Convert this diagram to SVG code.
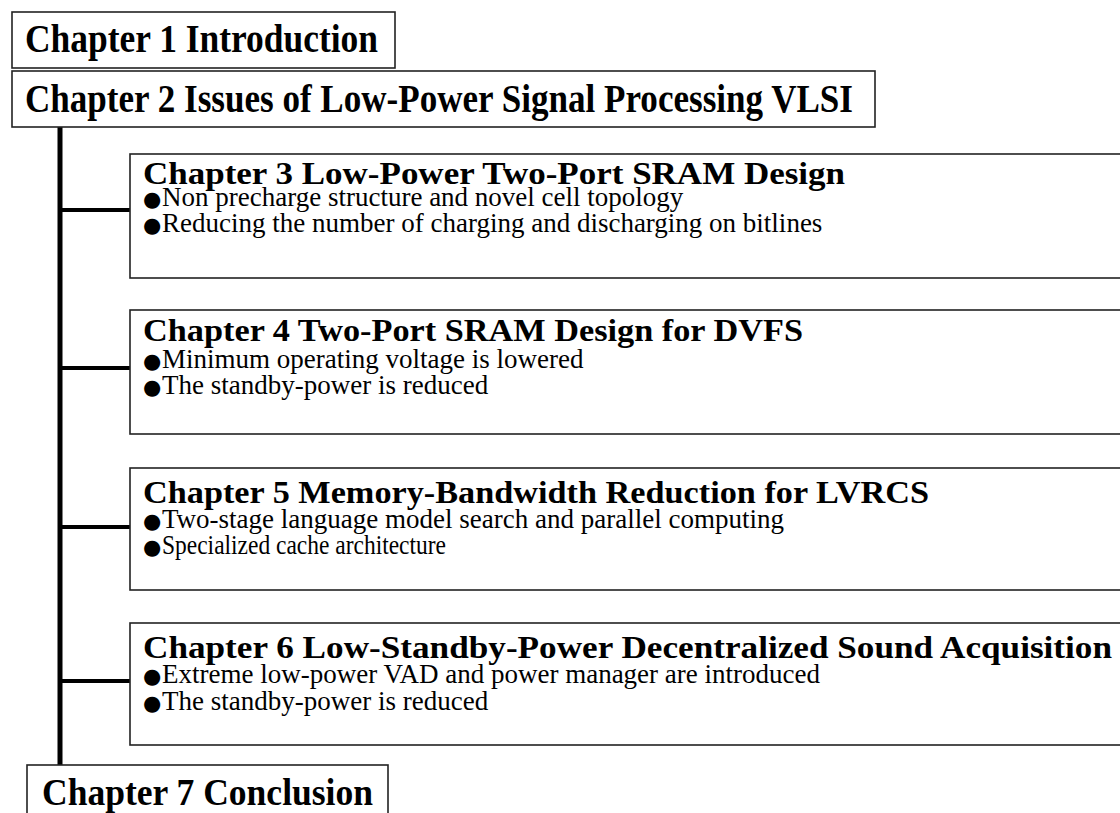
<svg xmlns="http://www.w3.org/2000/svg" width="1120" height="813" viewBox="0 0 1120 813">
<style>
.box{fill:#fff;stroke:#222;stroke-width:1.6}
.big{font-family:"Liberation Serif","Times New Roman",serif;font-weight:bold;font-size:40px;fill:#000}
.ttl{font-family:"Liberation Serif","Times New Roman",serif;font-weight:bold;font-size:31px;fill:#000}
.bul{font-family:"Liberation Serif","Times New Roman",serif;font-size:27px;fill:#000}
.dot{font-family:"DejaVu Sans",sans-serif;font-size:21px;fill:#000}
.line{stroke:#000;fill:none}
</style>
<rect width="1120" height="813" fill="#fff"/>
<g id="connectors">
<line class="line" x1="60" y1="127" x2="60" y2="765" stroke-width="5"/>
<line class="line" x1="60" y1="210" x2="130" y2="210" stroke-width="4"/>
<line class="line" x1="60" y1="368" x2="130" y2="368" stroke-width="4"/>
<line class="line" x1="60" y1="527" x2="130" y2="527" stroke-width="4"/>
<line class="line" x1="60" y1="681" x2="130" y2="681" stroke-width="4"/>
</g>
<g id="ch1">
<rect class="box" x="12" y="12" width="383" height="56"/>
<text class="big" x="25" y="52" textLength="353" lengthAdjust="spacingAndGlyphs">Chapter 1  Introduction</text>
</g>
<g id="ch2">
<rect class="box" x="12" y="71" width="863" height="56"/>
<text class="big" x="25" y="112" textLength="828" lengthAdjust="spacingAndGlyphs">Chapter 2  Issues of Low-Power Signal Processing VLSI</text>
</g>
<g id="ch3">
<rect class="box" x="130" y="154" width="1010" height="124"/>
<text class="ttl" x="143" y="184" textLength="702" lengthAdjust="spacingAndGlyphs">Chapter 3  Low-Power Two-Port SRAM Design</text>
<text class="dot" x="143" y="206">●</text>
<text class="bul" x="162" y="206">Non precharge structure and novel cell topology</text>
<text class="dot" x="143" y="232">●</text>
<text class="bul" x="162" y="232">Reducing the number of charging and discharging on bitlines</text>
</g>
<g id="ch4">
<rect class="box" x="130" y="310" width="1010" height="124"/>
<text class="ttl" x="143" y="341" textLength="660" lengthAdjust="spacingAndGlyphs">Chapter 4   Two-Port SRAM Design for DVFS</text>
<text class="dot" x="143" y="368">●</text>
<text class="bul" x="162" y="368">Minimum operating voltage is lowered</text>
<text class="dot" x="143" y="394">●</text>
<text class="bul" x="162" y="394">The standby-power is reduced</text>
</g>
<g id="ch5">
<rect class="box" x="130" y="468" width="1010" height="122"/>
<text class="ttl" x="143" y="503" textLength="786" lengthAdjust="spacingAndGlyphs">Chapter 5  Memory-Bandwidth Reduction for LVRCS</text>
<text class="dot" x="143" y="528">●</text>
<text class="bul" x="162" y="528">Two-stage language model search and parallel computing</text>
<text class="dot" x="143" y="554">●</text>
<text class="bul" x="162" y="554" textLength="284" lengthAdjust="spacingAndGlyphs">Specialized cache architecture</text>
</g>
<g id="ch6">
<rect class="box" x="130" y="623" width="1010" height="122"/>
<text class="ttl" x="143" y="658" textLength="969" lengthAdjust="spacingAndGlyphs">Chapter 6  Low-Standby-Power Decentralized Sound Acquisition</text>
<text class="dot" x="143" y="683">●</text>
<text class="bul" x="162" y="683">Extreme low-power VAD and power manager are introduced</text>
<text class="dot" x="143" y="710">●</text>
<text class="bul" x="162" y="710">The standby-power is reduced</text>
</g>
<g id="ch7">
<rect class="box" x="27" y="765" width="361" height="60"/>
<text class="big" x="42" y="805" textLength="331" lengthAdjust="spacingAndGlyphs" style="font-size:38px">Chapter 7  Conclusion</text>
</g>
</svg>
